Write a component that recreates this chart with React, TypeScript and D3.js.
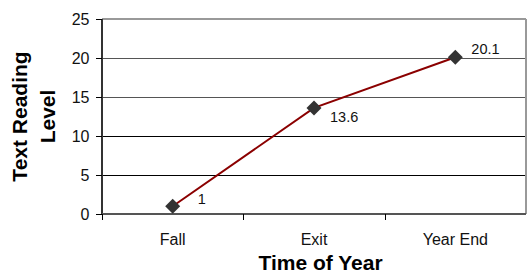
import React from "react";
import * as d3 from "d3";

const categories = ["Fall", "Exit", "Year End"];
const values = [1, 13.6, 20.1];
const yTicks = [0, 5, 10, 15, 20, 25];

const W = 527, H = 272;
const left = 102, right = 526, top = 19, bottom = 214;
const labelOffsets: [number, number][] = [[25, -2], [16, 14], [16, -3]];

export default function App() {
  const x = d3.scaleBand<string>().domain(categories).range([left, right]).padding(0);
  const y = d3.scaleLinear().domain([0, 25]).range([bottom, top]);
  const cx = (c: string) => (x(c) as number) + x.bandwidth() / 2;
  const line = d3.line<number>().x((_, i) => cx(categories[i])).y((v) => y(v));
  const font = "Liberation Sans, Arial, sans-serif";
  return (
    <svg width={W} height={H} style={{ position: "absolute", left: 0, top: 0 }} fontFamily={font}>
      <rect x={0} y={0} width={W} height={H} fill="#fff" />
      {yTicks.filter((t) => t > 0 && t < 25).map((t) => (
        <line key={t} x1={left} x2={right} y1={Math.round(y(t)) + 0.5} y2={Math.round(y(t)) + 0.5}
          stroke={t >= 15 ? "#555" : "#000"} strokeWidth={1} />
      ))}
      <line x1={left} x2={right} y1={top} y2={top} stroke="#999" strokeWidth={2} />
      <line x1={right} x2={right} y1={top} y2={bottom} stroke="#999" strokeWidth={2} />
      <line x1={left} x2={left} y1={top} y2={bottom + 1} stroke="#333" strokeWidth={2} />
      <line x1={left} x2={right} y1={bottom} y2={bottom} stroke="#555" strokeWidth={2} />
      {yTicks.map((t) => (
        <g key={t}>
          <line x1={left - 6} x2={left} y1={Math.round(y(t)) + 0.5} y2={Math.round(y(t)) + 0.5} stroke="#000" />
          <text x={89.5} y={y(t)} dy="0.35em" textAnchor="end" fontSize={16} fill="#111">{t}</text>
        </g>
      ))}
      {[left, ...categories.slice(1).map((c) => x(c) as number)].map((p, i) => (
        <line key={i} x1={Math.round(p) + 0.5} x2={Math.round(p) + 0.5} y1={bottom} y2={bottom + 6} stroke="#000" />
      ))}
      {categories.map((c) => (
        <text key={c} x={cx(c)} y={244.5} textAnchor="middle" fontSize={16} fill="#111">{c}</text>
      ))}
      <path d={line(values) || ""} fill="none" stroke="#8B0000" strokeWidth={2} />
      {values.map((v, i) => {
        const px = cx(categories[i]), py = y(v);
        const s = 7.5;
        const [ox, oy] = labelOffsets[i];
        return (
          <g key={i}>
            <path d={`M${px},${py - s}L${px + s},${py}L${px},${py + s}L${px - s},${py}Z`} fill="#333" />
            <text x={px + ox} y={py + oy} textAnchor="start" fontSize={14.5} fill="#111">
              {v}
            </text>
          </g>
        );
      })}
      <text x={320.5} y={270} textAnchor="middle" fontSize={21} fontWeight="bold" fill="#000">Time of Year</text>
      <g transform={`translate(0,116.5) rotate(-90)`}>
        <text x={0} y={27} textAnchor="middle" fontSize={21} fontWeight="bold" fill="#000">Text Reading</text>
        <text x={0} y={55} textAnchor="middle" fontSize={21} fontWeight="bold" fill="#000">Level</text>
      </g>
    </svg>
  );
}
